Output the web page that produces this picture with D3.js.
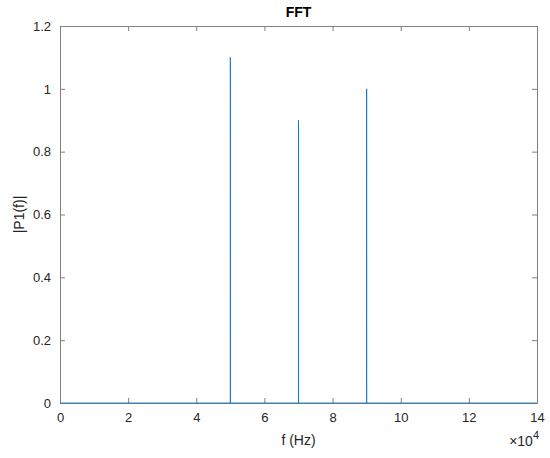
<!DOCTYPE html>
<html><head><meta charset="utf-8">
<script src="https://cdn.jsdelivr.net/npm/d3@7"></script>
<style>body{margin:0;background:#fff}svg{display:block}text{font-family:"Liberation Sans",Arial,sans-serif}</style>
</head><body>
<script>
const freqs = [0, 49990, 50000, 50010, 50020, 69990, 70000, 70010, 70020, 89990, 90000, 90010, 90020, 140000];
const amps  = [0, 0, 1.1, 1.01, 0, 0, 0.9, 0.37, 0, 0, 1.0, 0.1, 0, 0];
const xTicks = [0, 20000, 40000, 60000, 80000, 100000, 120000, 140000];
const xTickLabels = ["0", "2", "4", "6", "8", "10", "12", "14"];
const yTicks = [0, 0.2, 0.4, 0.6, 0.8, 1, 1.2];
const yTickLabels = ["0", "0.2", "0.4", "0.6", "0.8", "1", "1.2"];

const W = 550, H = 458;
const m = {l: 60, r: 13, t: 26, b: 55};
const svg = d3.select("body").append("svg").attr("width", W).attr("height", H);
const x = d3.scaleLinear().domain([0, 140000]).range([m.l, W - m.r]);
const y = d3.scaleLinear().domain([0, 1.2]).range([H - m.b, m.t]);
const axisCol = "#808080", textCol = "#262626";

const tl = 5;
const gx = svg.append("g").attr("transform", `translate(0,${H - m.b})`)
  .call(d3.axisBottom(x).tickValues(xTicks).tickFormat((d, i) => xTickLabels[i]).tickSizeInner(-tl).tickSizeOuter(0).tickPadding(10));
const gxt = svg.append("g").attr("transform", `translate(0,${m.t})`)
  .call(d3.axisTop(x).tickValues(xTicks).tickFormat("").tickSizeInner(-tl).tickSizeOuter(0));
const gy = svg.append("g").attr("transform", `translate(${m.l},0)`)
  .call(d3.axisLeft(y).tickValues(yTicks).tickFormat((d, i) => yTickLabels[i]).tickSizeInner(-tl).tickSizeOuter(0).tickPadding(9));
const gyr = svg.append("g").attr("transform", `translate(${W - m.r},0)`)
  .call(d3.axisRight(y).tickValues(yTicks).tickFormat("").tickSizeInner(-tl).tickSizeOuter(0));
[gx, gxt, gy, gyr].forEach(g => {
  g.selectAll("path.domain").attr("stroke", axisCol).attr("stroke-width", 1);
  g.selectAll(".tick line").attr("stroke", axisCol);
  g.selectAll(".tick text").attr("fill", textCol).style("font-size", "13px").style("font-family", "Liberation Sans, Arial, sans-serif");
});

const data = freqs.map((f, i) => ({f, a: amps[i]}));
svg.append("path").datum(data)
  .attr("fill", "none").attr("stroke", "#0072BD").attr("stroke-width", 0.8)
  .attr("d", d3.line().x(d => x(d.f)).y(d => y(d.a)));

svg.append("text").attr("x", (m.l + W - m.r) / 2).attr("y", 17).attr("text-anchor", "middle")
  .attr("fill", "#000").style("font-size", "14px").style("font-weight", "bold").text("FFT");
svg.append("text").attr("x", (m.l + W - m.r) / 2).attr("y", 445).attr("text-anchor", "middle")
  .attr("fill", textCol).style("font-size", "14px").text("f (Hz)");
svg.append("text").attr("transform", `translate(24,${(m.t + H - m.b) / 2}) rotate(-90)`).attr("text-anchor", "middle")
  .attr("fill", textCol).style("font-size", "14px").text("|P1(f)|");
const ex = svg.append("text").attr("x", 539).attr("y", 446).attr("text-anchor", "end")
  .attr("fill", textCol).style("font-size", "14px");
ex.append("tspan").text("\u00d710");
ex.append("tspan").attr("dy", -7).style("font-size", "11px").text("4");
</script>
</body></html>
